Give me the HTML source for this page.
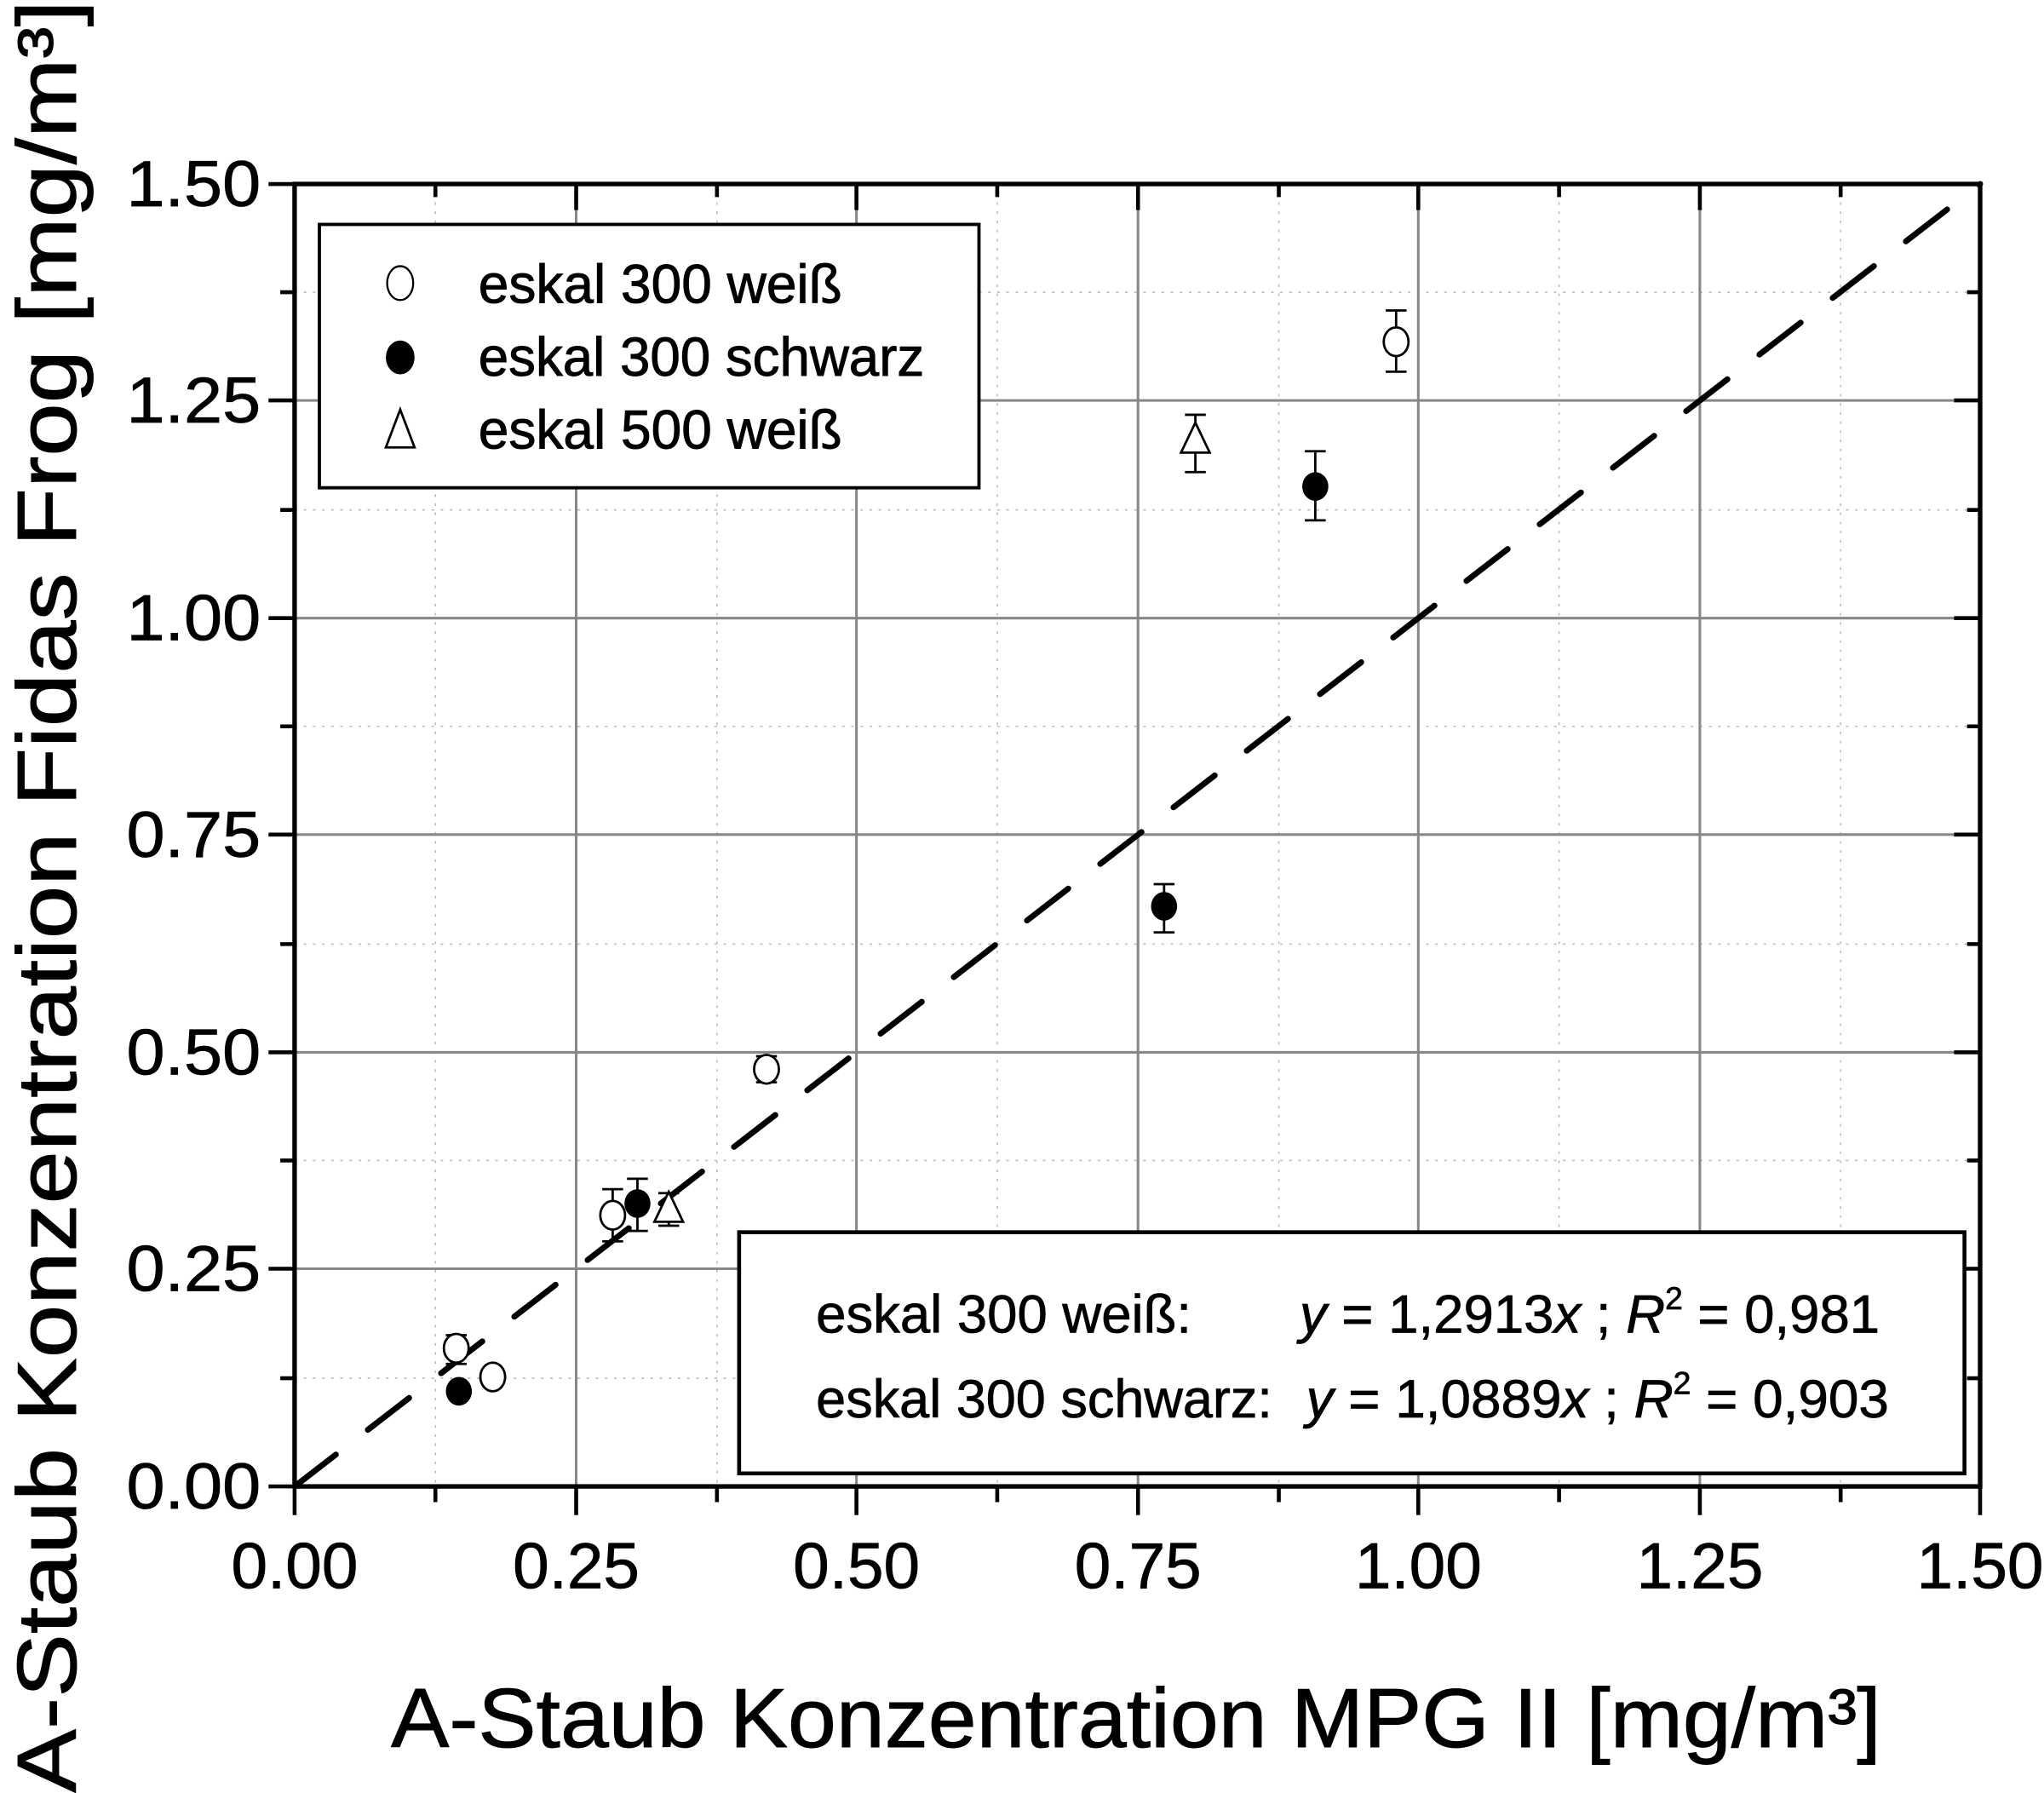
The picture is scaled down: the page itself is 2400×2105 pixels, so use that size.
<!DOCTYPE html>
<html><head><meta charset="utf-8"><style>html,body{margin:0;padding:0;background:#fff}svg{display:block}</style></head>
<body>
<svg xmlns="http://www.w3.org/2000/svg" width="2400" height="2105" viewBox="0 0 1568 1375" font-family="Liberation Sans, Arial, sans-serif">
<rect width="1568" height="1375" fill="#fff"/>
<g stroke="#bbb" stroke-width="1" stroke-dasharray="2,5">
<line x1="334" y1="141" x2="334" y2="1140"/><line x1="550" y1="141" x2="550" y2="1140"/><line x1="765" y1="141" x2="765" y2="1140"/><line x1="981" y1="141" x2="981" y2="1140"/><line x1="1196" y1="141" x2="1196" y2="1140"/><line x1="1412" y1="141" x2="1412" y2="1140"/>
<line x1="226" y1="224" x2="1519" y2="224"/><line x1="226" y1="391" x2="1519" y2="391"/><line x1="226" y1="557" x2="1519" y2="557"/><line x1="226" y1="724" x2="1519" y2="724"/><line x1="226" y1="890" x2="1519" y2="890"/><line x1="226" y1="1057" x2="1519" y2="1057"/>
</g>
<g stroke="#888" stroke-width="2">
<line x1="442" y1="141" x2="442" y2="1140"/><line x1="657" y1="141" x2="657" y2="1140"/><line x1="873" y1="141" x2="873" y2="1140"/><line x1="1088" y1="141" x2="1088" y2="1140"/><line x1="1304" y1="141" x2="1304" y2="1140"/>
<line x1="226" y1="307" x2="1519" y2="307"/><line x1="226" y1="474" x2="1519" y2="474"/><line x1="226" y1="640" x2="1519" y2="640"/><line x1="226" y1="807" x2="1519" y2="807"/><line x1="226" y1="973" x2="1519" y2="973"/>
</g>
<line x1="226" y1="1140" x2="1519" y2="141" stroke="#000" stroke-width="4.5" stroke-dasharray="40,31" stroke-linecap="round"/>
<g stroke="#000" stroke-width="3">
<path d="M226 1140v22M442 1140v22M657 1140v22M873 1140v22M1088 1140v22M1304 1140v22M1519 1140v22M334 1140v12M550 1140v12M765 1140v12M981 1140v12M1196 1140v12M1412 1140v12"/>
<path d="M442 141v20M657 141v20M873 141v20M1088 141v20M1304 141v20M334 141v10M550 141v10M765 141v10M981 141v10M1196 141v10M1412 141v10"/>
<path d="M226 141h-20M226 307h-20M226 474h-20M226 640h-20M226 807h-20M226 973h-20M226 1140h-20M226 224h-11M226 391h-11M226 557h-11M226 724h-11M226 890h-11M226 1057h-11"/>
<path d="M1519 307h-20M1519 474h-20M1519 640h-20M1519 807h-20M1519 973h-20M1519 224h-10M1519 391h-10M1519 557h-10M1519 724h-10M1519 890h-10M1519 1057h-10"/>
</g>
<rect x="226" y="141" width="1293" height="999" fill="none" stroke="#000" stroke-width="3.5"/>
<rect x="245" y="172" width="506" height="202" fill="#fff" stroke="#000" stroke-width="2.5"/>
<ellipse cx="307" cy="217" rx="10" ry="13" fill="#fff" stroke="#000" stroke-width="1.5"/>
<ellipse cx="307" cy="274" rx="11" ry="13" fill="#000"/>
<path d="M307 314 L296 343 L318 343 Z" fill="#fff" stroke="#000" stroke-width="1.8"/>
<g font-size="42" fill="#000" stroke="#000" stroke-width="0.6">
<text x="367" y="232" textLength="279" lengthAdjust="spacingAndGlyphs">eskal 300 weiß</text>
<text x="367" y="288" textLength="342" lengthAdjust="spacingAndGlyphs">eskal 300 schwarz</text>
<text x="367" y="344" textLength="279" lengthAdjust="spacingAndGlyphs">eskal 500 weiß</text>
</g>
<rect x="567" y="945" width="940" height="185" fill="#fff" stroke="#000" stroke-width="3"/>
<g font-size="41" fill="#000" stroke="#000" stroke-width="0.5">
<text x="626" y="1022" textLength="288" lengthAdjust="spacingAndGlyphs">eskal 300 weiß:</text>
<text x="997" y="1022" textLength="445" lengthAdjust="spacingAndGlyphs"><tspan font-style="italic">y</tspan> = 1,2913<tspan font-style="italic">x</tspan> ; <tspan font-style="italic">R</tspan><tspan dy="-18" font-size="24">2</tspan><tspan dy="18"> = 0,981</tspan></text>
<text x="626" y="1087" textLength="350" lengthAdjust="spacingAndGlyphs">eskal 300 schwarz:</text>
<text x="1002" y="1087" textLength="447" lengthAdjust="spacingAndGlyphs"><tspan font-style="italic">y</tspan> = 1,0889<tspan font-style="italic">x</tspan> ; <tspan font-style="italic">R</tspan><tspan dy="-18" font-size="24">2</tspan><tspan dy="18"> = 0,903</tspan></text>
</g>
<g stroke="#000" stroke-width="1.8" fill="none">
<path d="M1071 238V285M1063 238h16M1063 285h16"/>
<path d="M1009 346V399M1001 346h16M1001 399h16"/>
<path d="M917 318V362M909 318h16M909 362h16"/>
<path d="M893 678V715M885 678h16M885 715h16"/>
<path d="M588 810V830M580 810h16M580 830h16"/>
<path d="M470 912V952M462 912h16M462 952h16"/>
<path d="M489 904V944M481 904h16M481 944h16"/>
<path d="M513 915V940M505 915h16M505 940h16"/>
<path d="M350 1024V1046M342 1024h16M342 1046h16"/>
<path d="M378 1050V1063M370 1050h16M370 1063h16"/>
</g>
<g fill="#fff" stroke="#000" stroke-width="1.8">
<ellipse cx="1071" cy="262" rx="9.5" ry="11"/>
<ellipse cx="588" cy="820" rx="9.5" ry="11"/>
<ellipse cx="470" cy="932" rx="9.5" ry="11"/>
<ellipse cx="350" cy="1034" rx="9.5" ry="11"/>
<ellipse cx="378" cy="1056" rx="9.5" ry="11"/>
<path d="M917 324 L906 347 L928 347 Z"/>
<path d="M513 914 L502 937 L524 937 Z"/>
</g>
<g fill="#000">
<ellipse cx="1009" cy="373" rx="10" ry="11"/>
<ellipse cx="893" cy="695" rx="10" ry="11"/>
<ellipse cx="489" cy="923" rx="10" ry="11"/>
<ellipse cx="352" cy="1067" rx="10" ry="11"/>
</g>
<g font-size="50" fill="#000" stroke="#000" stroke-width="0.5" text-anchor="end">
<text x="200" y="158" textLength="103" lengthAdjust="spacingAndGlyphs">1.50</text><text x="200" y="324" textLength="103" lengthAdjust="spacingAndGlyphs">1.25</text><text x="200" y="491" textLength="103" lengthAdjust="spacingAndGlyphs">1.00</text><text x="200" y="657" textLength="103" lengthAdjust="spacingAndGlyphs">0.75</text><text x="200" y="824" textLength="103" lengthAdjust="spacingAndGlyphs">0.50</text><text x="200" y="990" textLength="103" lengthAdjust="spacingAndGlyphs">0.25</text><text x="200" y="1157" textLength="103" lengthAdjust="spacingAndGlyphs">0.00</text>
</g>
<g font-size="50" fill="#000" stroke="#000" stroke-width="0.5" text-anchor="middle">
<text x="226" y="1218">0.00</text><text x="442" y="1218">0.25</text><text x="657" y="1218">0.50</text><text x="873" y="1218">0.75</text><text x="1088" y="1218">1.00</text><text x="1304" y="1218">1.25</text><text x="1519" y="1218">1.50</text>
</g>
<text x="300" y="1340" font-size="64" stroke="#000" stroke-width="0.6" textLength="1143" lengthAdjust="spacingAndGlyphs">A-Staub Konzentration MPG II [mg/m³]</text>
<text transform="translate(58,1375) rotate(-90)" font-size="64" stroke="#000" stroke-width="0.6" textLength="1375" lengthAdjust="spacingAndGlyphs">A-Staub Konzentration Fidas Frog [mg/m³]</text>
</svg>
</body></html>
